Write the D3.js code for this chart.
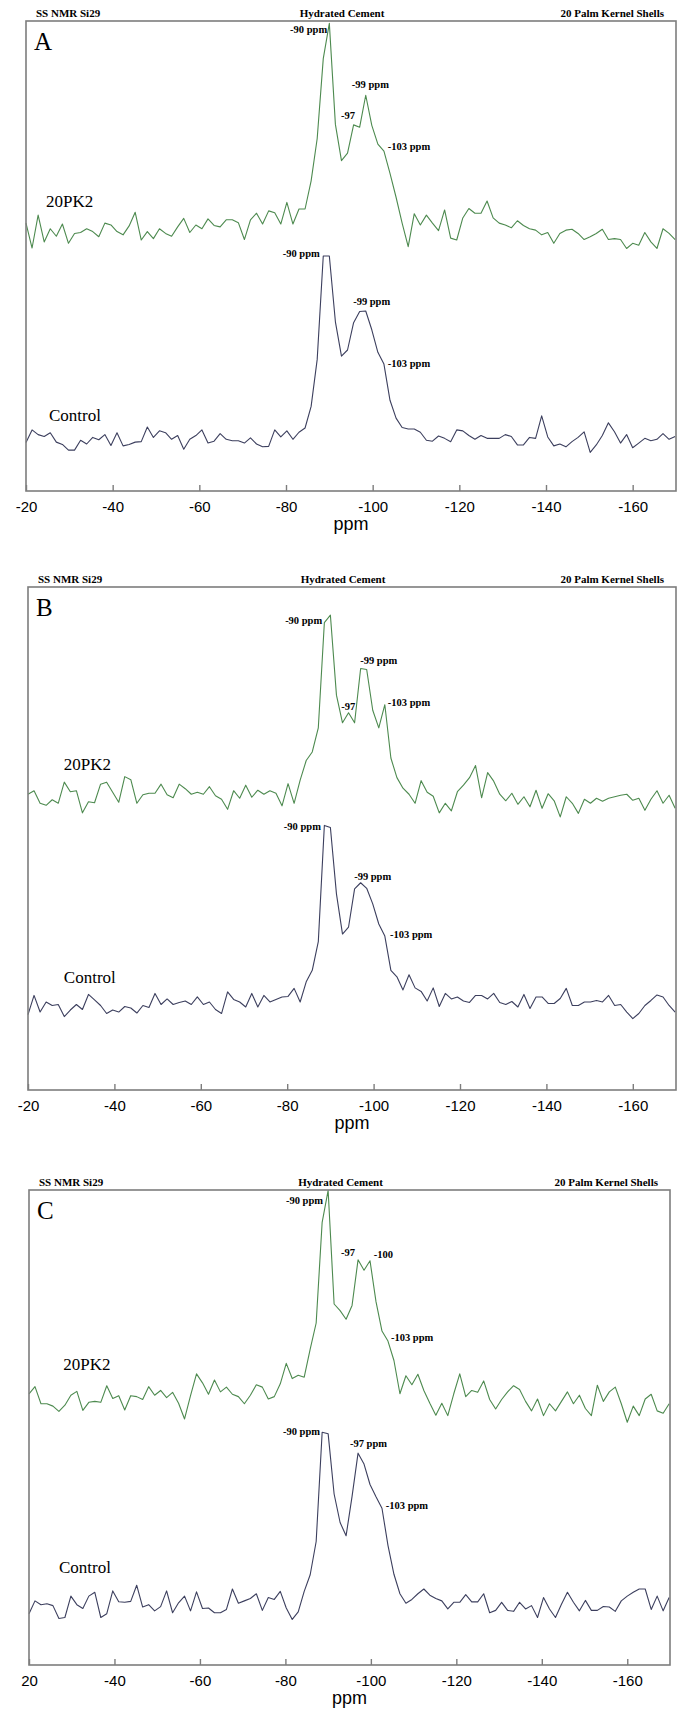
<!DOCTYPE html>
<html>
<head>
<meta charset="utf-8">
<script src="https://cdn.jsdelivr.net/npm/d3@7"></script>
<style>
  body { margin: 0; background: #fff; }
</style>
</head>
<body>
<svg id="fig" width="678" height="1711"></svg>
<script>
// chemical shift grid (ppm), one point every 1.4 ppm from -20
const ppmStart = -20
const ppmStep = -1.4
const tickValues = [-20, -40, -60, -80, -100, -120, -140, -160]
const tickLabelsAB = ['-20', '-40', '-60', '-80', '-100', '-120', '-140', '-160']
const tickLabelsC = ['20', '-40', '-60', '-80', '-100', '-120', '-140', '-160']

const panelLetters = ['A', 'B', 'C']
const headerLeft = 'SS NMR Si29'
const headerMid = 'Hydrated Cement'
const headerRight = '20 Palm Kernel Shells'
const seriesNames = ['20PK2', 'Control']

// intensities (0 = axis, 100 = top of frame)
const a20pk2 = [57.0, 51.7, 58.7, 53.0, 55.8, 54.2, 56.8, 52.7, 54.8, 55.0, 55.8, 55.2, 54.1, 57.0, 56.6, 55.2, 54.5, 56.4, 59.3, 53.4,
  55.2, 53.7, 55.8, 54.8, 54.2, 56.2, 58.0, 55.0, 56.6, 55.8, 57.9, 56.5, 56.2, 57.7, 57.7, 57.1, 53.5, 57.7, 59.1, 56.8,
  59.6, 59.2, 56.8, 61.4, 56.8, 60, 60, 66, 75, 92, 99.5, 78, 70.3, 71.9, 77.9, 77.4, 84.2, 77.8, 73.8, 72.3,
  67.6, 62.5, 57, 52, 59, 56.6, 58.7, 57, 55.4, 59.8, 53.8, 53.4, 58.1, 60.1, 59.1, 59.1, 61.7, 58.1, 57, 56.6,
  56, 57.5, 56.5, 55.8, 55.5, 54.5, 55, 52.7, 54.8, 55.5, 55.7, 54.8, 53.5, 54.1, 54.8, 55.7, 53.5, 53.7, 53.5, 51.6,
  52.7, 52.3, 55, 53, 51.6, 55.8, 54.8, 53.5]
const aControl = [10.3, 13.0, 12.0, 11.6, 12.4, 10.4, 9.9, 8.7, 8.7, 10.8, 10.0, 11.4, 10.9, 12.0, 9.7, 12.4, 9.6, 9.9, 10.4, 10.5,
  13.6, 11.4, 12.8, 12.4, 11.0, 11.8, 8.9, 11.0, 11.8, 13.0, 10.2, 10.6, 12.2, 11.0, 10.7, 10.7, 10.2, 11.3, 10.0, 9.4,
  9.5, 13.0, 11.5, 12.8, 11.0, 12.5, 13.4, 18, 28, 50, 50, 36, 28.7, 30.0, 35.8, 38.2, 38.3, 34.3, 29.5, 27.0,
  19.3, 15.5, 13.5, 13.2, 13.2, 12.5, 10.8, 10.6, 11.7, 11.2, 10.5, 13.0, 12.8, 11.8, 11.0, 11.8, 11.2, 11.2, 11.2, 12.0,
  11.6, 9.8, 9.8, 11.4, 11.2, 16.0, 11.5, 9.6, 10.0, 9.4, 10.5, 11.4, 12.6, 8.2, 9.8, 11.8, 14.5, 12.6, 10.2, 12.0,
  9.2, 10.2, 11.2, 10.7, 11.0, 12.2, 11.0, 11.6]
const b20pk2 = [58.8, 59.5, 57.0, 56.6, 57.7, 57.0, 61.2, 59.3, 59.5, 55.1, 57.3, 57.1, 60.8, 61.2, 59.2, 57.2, 62.3, 61.7, 57.0, 58.7,
  59.0, 59.0, 60.8, 58.7, 58.1, 60.8, 59.9, 58.8, 59.2, 58.8, 60.3, 58.5, 57.8, 55.8, 59.5, 58.0, 60.6, 58.2, 59.6, 58.8,
  59.5, 59.0, 56.5, 60.9, 57.0, 61.6, 65.5, 67.2, 72.0, 92.9, 94.4, 78.5, 73.0, 75.0, 73.0, 83.8, 83.6, 75.5, 72.0, 76.6,
  66.0, 62.1, 60.0, 58.8, 57.0, 61.5, 59.2, 58.4, 55.1, 57.0, 55.5, 59.3, 60.6, 62.1, 64.5, 58.1, 63.1, 61.4, 58.8, 57.5,
  59.0, 56.8, 58.3, 56.3, 59.6, 56.0, 58.9, 57.5, 54.3, 58.3, 57.0, 55.0, 57.8, 57.0, 58.0, 57.4, 58.0, 58.3, 58.6, 58.8,
  57.6, 58.0, 55.6, 57.8, 59.5, 57.0, 58.6, 56.0]
const bControl = [15.0, 18.8, 15.5, 17.5, 16.8, 17.0, 14.6, 15.9, 17.0, 16.0, 19.0, 17.9, 16.8, 15.2, 15.9, 15.5, 16.6, 16.3, 15.3, 16.8,
  16.4, 19.2, 17.0, 18.1, 17.0, 17.4, 17.7, 17.0, 18.5, 17.0, 17.5, 16.0, 15.2, 19.5, 18.0, 17.5, 16.5, 19.2, 16.5, 18.8,
  17.5, 18.0, 18.5, 18.6, 20.2, 17.5, 21.5, 23.8, 29.5, 52.6, 52.2, 39, 31, 32.4, 40, 41.2, 40.1, 37.0, 33.0, 30.6,
  23.8, 22.5, 19.9, 22.9, 20.3, 19.6, 17.7, 20.3, 16.6, 19.2, 18.1, 18.5, 17.7, 17.4, 18.8, 18.8, 18.1, 19.2, 17.4, 17.0,
  17.6, 16.5, 19.0, 16.2, 18.5, 18.5, 17.2, 17.2, 18.2, 20.2, 16.8, 16.8, 17.5, 17.5, 17.8, 17.5, 18.8, 16.8, 17.0, 15.5,
  14.2, 15.2, 16.8, 17.8, 18.9, 18.5, 16.8, 15.5]
const c20pk2 = [57.1, 58.6, 55.0, 55.0, 54.5, 53.4, 54.7, 56.8, 57.6, 53.6, 55.3, 55.5, 55.3, 58.8, 56.1, 56.7, 53.7, 56.7, 56.5, 55.9,
  58.6, 56.8, 57.8, 56.3, 57.4, 55.1, 51.8, 56.7, 61.3, 59.4, 57.0, 60.0, 57.5, 58.5, 57.0, 56.5, 55.0, 56.8, 59.0, 58.5,
  56.0, 56.5, 59.2, 63.5, 60.3, 61.0, 60.6, 66.5, 72.0, 93.2, 99.9, 76.0, 74.6, 72.8, 75.7, 85.3, 83.1, 85.1, 76.5, 70.3,
  68.2, 64.1, 57.1, 60.9, 59.0, 61.2, 57.8, 55.1, 52.6, 55.1, 52.5, 57.1, 61.3, 56.5, 57.8, 57.4, 59.8, 55.9, 53.9, 55.9,
  57.5, 58.8, 58.0, 55.5, 53.5, 56.0, 52.5, 55.0, 53.5, 55.5, 57.5, 55.0, 56.8, 54.0, 52.5, 58.9, 55.5, 57.5, 58.5, 55.0,
  51.1, 54.5, 52.5, 56.0, 57.0, 53.5, 53.0, 55.0]
const cControl = [10.8, 13.5, 12.7, 12.9, 12.5, 9.8, 10.0, 14.5, 12.7, 11.9, 14.5, 15.3, 10.0, 10.8, 15.6, 13.3, 13.2, 13.4, 16.8, 12.2,
  12.7, 11.4, 12.3, 15.6, 11.0, 13.1, 14.5, 11.4, 15.4, 11.9, 12.0, 11.0, 11.0, 11.7, 16.0, 13.0, 13.5, 14.0, 15.0, 11.5,
  14.2, 13.8, 15.5, 12.0, 9.6, 11.2, 15.5, 19.0, 26.0, 49.0, 48.7, 36.0, 30.0, 27.2, 35.5, 44.6, 42.3, 38.0, 35.4, 33.0,
  25.2, 19.1, 15.0, 13.0, 13.8, 15.0, 16.0, 14.7, 14.0, 13.5, 11.8, 13.2, 13.2, 14.8, 13.3, 13.3, 15.0, 11.0, 11.5, 13.2,
  11.5, 11.3, 13.2, 11.8, 12.5, 10.0, 14.2, 11.8, 10.0, 12.8, 15.3, 13.2, 11.4, 13.6, 11.5, 11.5, 12.3, 12.2, 11.3, 13.5,
  14.5, 15.3, 16.0, 16.0, 11.7, 14.5, 11.4, 14.2]

// peak annotations: [text, ppm, intensity]
const aNotes = [['-90 ppm', -89.5, 97.4], ['-97', -92.7, 79.1], ['-99 ppm', -95.2, 85.7], ['-103 ppm', -103.5, 72.6],
  ['-90 ppm', -87.8, 49.8], ['-99 ppm', -95.5, 39.5], ['-103 ppm', -103.5, 26.4]]
const bNotes = [['-90 ppm', -88.1, 92.6], ['-97', -92.5, 75.5], ['-99 ppm', -96.9, 84.7], ['-103 ppm', -103.3, 76.4],
  ['-90 ppm', -87.8, 51.6], ['-99 ppm', -95.5, 41.7], ['-103 ppm', -103.8, 30.2]]
const cNotes = [['-90 ppm', -88.8, 97.0], ['-97', -93.0, 86.2], ['-100', -100.7, 85.7], ['-103 ppm', -104.7, 68.2],
  ['-90 ppm', -88.1, 48.4], ['-97 ppm', -95.1, 45.8], ['-103 ppm', -103.5, 32.9]]

// where the trace names sit: [ppm, intensity]
const aNamePos = [[-24.6, 60.4], [-25.3, 14.9]]
const bNamePos = [[-28.3, 63.6], [-28.3, 21.2]]
const cNamePos = [[-28.0, 62.2], [-27.0, 19.4]]

const serif = '"Liberation Serif", "Times New Roman", serif'
const sans = '"Liberation Sans", Arial, sans-serif'
const frameColor = '#7d7d7d'
const lineColors = ['#4d8a4f', '#3c3f5e']

const panels = [
  { left: 26, right: 676, top: 21, bottom: 491, series: [a20pk2, aControl], notes: aNotes, names: aNamePos, ticks: tickLabelsAB },
  { left: 28, right: 676, top: 587, bottom: 1090, series: [b20pk2, bControl], notes: bNotes, names: bNamePos, ticks: tickLabelsAB },
  { left: 29, right: 670, top: 1190, bottom: 1665, series: [c20pk2, cControl], notes: cNotes, names: cNamePos, ticks: tickLabelsC }
]

const svg = d3.select('#fig')

panels.forEach((p, k) => {
  const x = d3.scaleLinear().domain([-20, -170]).range([p.left, p.right])
  const y = d3.scaleLinear().domain([0, 100]).range([p.bottom, p.top])
  const g = svg.append('g')

  // header line above the frame
  const hy = p.top - 4.5
  g.append('text').attr('x', p.left + 10).attr('y', hy)
    .attr('font-family', serif).attr('font-weight', 'bold').attr('font-size', 11).text(headerLeft)
  g.append('text').attr('x', (p.left + p.right) / 2 - 9).attr('y', hy).attr('text-anchor', 'middle')
    .attr('font-family', serif).attr('font-weight', 'bold').attr('font-size', 11).text(headerMid)
  g.append('text').attr('x', p.right - 12).attr('y', hy).attr('text-anchor', 'end')
    .attr('font-family', serif).attr('font-weight', 'bold').attr('font-size', 11).text(headerRight)

  // bottom axis, ticks pointing inward
  const axis = d3.axisBottom(x)
    .tickValues(tickValues)
    .tickSizeInner(-6)
    .tickSizeOuter(0)
    .tickPadding(10)
    .tickFormat((d, i) => p.ticks[i])
  const ax = g.append('g').attr('transform', `translate(0,${p.bottom})`).call(axis)
  ax.select('.domain').remove()
  ax.selectAll('line').attr('stroke', frameColor).attr('stroke-width', 1.4)
  ax.selectAll('text').attr('font-family', sans).attr('font-size', 15).attr('fill', '#000')

  g.append('text')
    .attr('x', (p.left + p.right) / 2)
    .attr('y', p.bottom + 39)
    .attr('text-anchor', 'middle')
    .attr('font-family', sans).attr('font-size', 18)
    .text('ppm')

  // spectra
  p.series.forEach((vals, s) => {
    const line = d3.line()
      .x((d, i) => x(ppmStart + i * ppmStep))
      .y(d => y(d))
    g.append('path')
      .datum(vals)
      .attr('d', line)
      .attr('fill', 'none')
      .attr('stroke', lineColors[s])
      .attr('stroke-width', 1.1)
      .attr('stroke-linejoin', 'round')
  })

  // frame
  g.append('rect')
    .attr('x', p.left).attr('y', p.top)
    .attr('width', p.right - p.left).attr('height', p.bottom - p.top)
    .attr('fill', 'none').attr('stroke', frameColor).attr('stroke-width', 1.6)

  // panel letter
  g.append('text').attr('x', p.left + 8).attr('y', p.top + 29)
    .attr('font-family', serif).attr('font-size', 25).text(panelLetters[k])

  // trace names
  p.names.forEach((pos, s) => {
    g.append('text').attr('x', x(pos[0])).attr('y', y(pos[1]))
      .attr('font-family', serif).attr('font-size', 17).text(seriesNames[s])
  })

  // peak labels
  g.selectAll('.note')
    .data(p.notes)
    .enter()
    .append('text')
    .attr('class', 'note')
    .attr('x', d => x(d[1]))
    .attr('y', d => y(d[2]))
    .attr('text-anchor', d => d[1] > -90 ? 'end' : 'start')
    .attr('font-family', serif)
    .attr('font-weight', 'bold')
    .attr('font-size', 10.5)
    .text(d => d[0])
})
</script>
</body>
</html>
